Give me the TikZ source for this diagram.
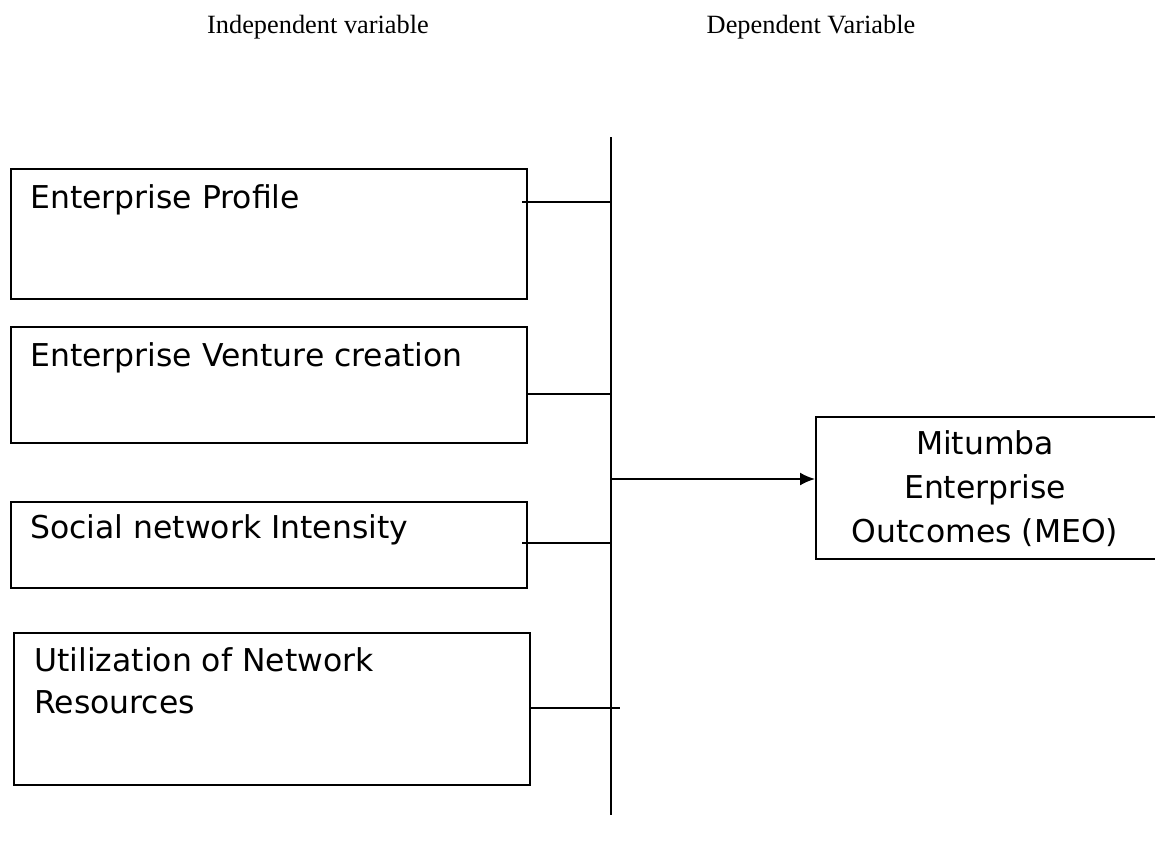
\documentclass[tikz,border=0pt]{standalone}
\usepackage{fontspec}
\setmainfont{Liberation Serif}
\setsansfont{DejaVu Sans}
\usetikzlibrary{positioning,arrows.meta}
\begin{document}
\begin{tikzpicture}[x=0.02cm, y=-0.02cm,
  varbox/.style={draw, line width=1.1pt, inner sep=0pt, anchor=north west},
  boxtext/.style={font=\sffamily\fontsize{17.9}{24}\selectfont, anchor=north west, align=left, inner sep=0pt},
  link/.style={line width=1.1pt},
  heading/.style={font=\fontsize{15}{18}\selectfont}]
  \useasboundingbox (0,0) rectangle (1155,843);
  % Headings
  \node[heading] (indep) at (318,27) {Independent variable};
  \node[heading] (dep) at (811,27) {Dependent Variable};
  % Independent variable boxes
  \node[varbox, minimum width=10.32cm, minimum height=2.6cm] (profile) at (10,168) {};
  \node[boxtext] (profiletxt) at (30,184) {Enterprise Profile};
  \node[varbox, minimum width=10.32cm, minimum height=2.32cm] (venture) at (10,326) {};
  \node[boxtext] (venturetxt) at (30,342) {Enterprise Venture creation};
  \node[varbox, minimum width=10.32cm, minimum height=1.72cm] (social) at (10,501) {};
  \node[boxtext] (socialtxt) at (30,514) {Social network Intensity};
  \node[varbox, minimum width=10.32cm, minimum height=3.04cm] (util) at (13,632) {};
  \node[boxtext] (utiltxt) at (34,647) {Utilization of Network\\Resources};
  % Dependent variable box
  \node[varbox, minimum width=6.8cm, minimum height=2.84cm] (meo) at (815,416) {};
  \node[font=\sffamily\fontsize{17.9}{25}\selectfont, align=center] (meotxt) at (985,489)
    {Mitumba\\Enterprise\\Outcomes (MEO)};
  % Vertical bar
  \coordinate (bartop) at (611,137);
  \coordinate (barbot) at (611,815);
  \draw[link] (bartop) -- (barbot);
  % Connectors into the bar
  \coordinate (p1) at (522,202);
  \coordinate (q1) at (611,202);
  \coordinate (q2) at (612,394);
  \coordinate (p3) at (522,543);
  \coordinate (q3) at (611,543);
  \coordinate (q4) at (620,708);
  \draw[link] (p1) -- (q1);
  \draw[link] (venture.east |- q2) -- (q2);
  \draw[link] (p3) -- (q3);
  \draw[link] (util.east |- q4) -- (q4);
  % Arrow to outcome
  \coordinate (a0) at (611,479);
  \draw[link, -{Latex[length=0.3cm,width=0.26cm]}] (a0) -- (meo.west |- a0);
\end{tikzpicture}
\end{document}
